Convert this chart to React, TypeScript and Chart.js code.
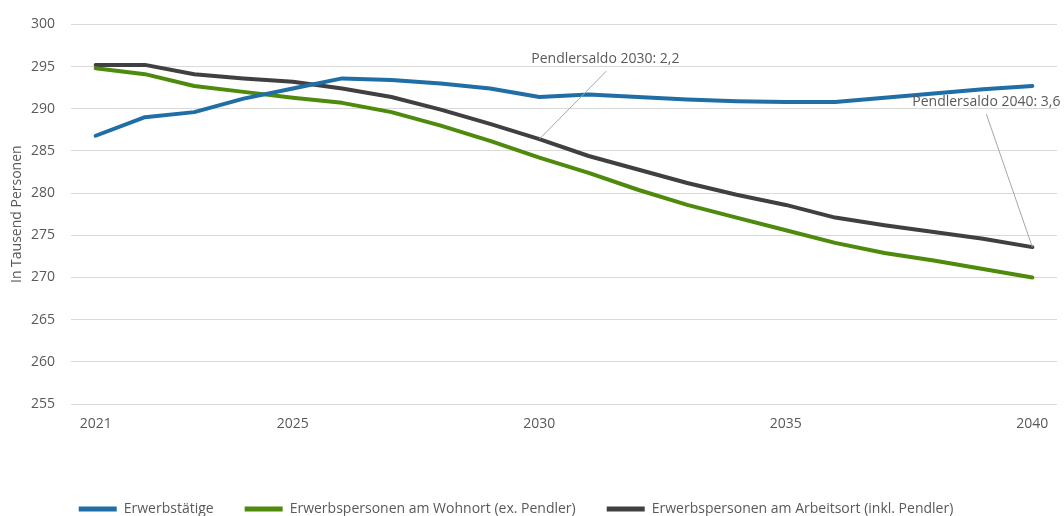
import React, { useEffect, useRef } from 'react';
import { Chart, registerables } from 'chart.js';

Chart.register(...registerables);

const years = ['2021', '2022', '2023', '2024', '2025', '2026', '2027', '2028', '2029', '2030',
  '2031', '2032', '2033', '2034', '2035', '2036', '2037', '2038', '2039', '2040'];

const shownYears = ['2021', '2025', '2030', '2035', '2040'];

const erwerbstaetige = [286.8, 289.0, 289.6, 291.2, 292.4, 293.6, 293.4, 293.0, 292.4, 291.4,
  291.7, 291.4, 291.1, 290.9, 290.8, 290.8, 291.3, 291.8, 292.3, 292.7];

const wohnort = [294.8, 294.1, 292.7, 292.0, 291.3, 290.7, 289.6, 288.0, 286.2, 284.2,
  282.4, 280.4, 278.6, 277.1, 275.6, 274.1, 272.9, 272.0, 271.0, 270.0];

const arbeitsort = [295.2, 295.2, 294.1, 293.6, 293.2, 292.4, 291.4, 289.9, 288.2, 286.4,
  284.4, 282.8, 281.2, 279.8, 278.6, 277.1, 276.2, 275.4, 274.6, 273.6];

const seriesNames = [
  'Erwerbstätige',
  'Erwerbspersonen am Wohnort (ex. Pendler)',
  'Erwerbspersonen am Arbeitsort (inkl. Pendler)',
];

const noteYears = ['2030', '2040'];

const yTitle = 'In Tausend Personen';

const FONT = "'Open Sans', 'Noto Sans', 'DejaVu Sans', sans-serif";
const GRAY = '#595959';
const COLORS = ['#1f6ea6', '#4e8a0c', '#404040'];

// pixel offsets of label/leader relative to the annotated point
const noteOffsets = [
  { lineDx: 67, lineDy: -68, textDx: 66, textDy: -80 },
  { lineDx: -46, lineDy: -133, textDx: -46, textDy: -145 },
];

export default function App() {
  const ref = useRef<HTMLCanvasElement>(null);

  useEffect(() => {
    if (!ref.current) return;

    const notePlugin = {
      id: 'pendlerNotes',
      afterDatasetsDraw(chart: any) {
        const ctx = chart.ctx;
        const meta = chart.getDatasetMeta(2);
        noteYears.forEach((yr, k) => {
          const idx = years.indexOf(yr);
          const pt = meta.data[idx];
          if (!pt) return;
          const off = noteOffsets[k];
          const saldo = (arbeitsort[idx] - wohnort[idx]).toFixed(1).replace('.', ',');
          ctx.save();
          ctx.strokeStyle = '#a6a6a6';
          ctx.lineWidth = 1;
          ctx.beginPath();
          ctx.moveTo(pt.x, pt.y);
          ctx.lineTo(pt.x + off.lineDx, pt.y + off.lineDy);
          ctx.stroke();
          ctx.fillStyle = GRAY;
          ctx.font = `14px ${FONT}`;
          ctx.textAlign = 'center';
          ctx.textBaseline = 'middle';
          ctx.fillText(`Pendlersaldo ${yr}: ${saldo}`, pt.x + off.textDx, pt.y + off.textDy);
          ctx.restore();
        });
      },
    };

    const data = [erwerbstaetige, wohnort, arbeitsort];

    const chart = new Chart(ref.current, {
      type: 'line',
      data: {
        labels: years,
        datasets: data.map((d, i) => ({
          label: seriesNames[i],
          data: d,
          borderColor: COLORS[i],
          backgroundColor: COLORS[i],
          borderWidth: 4,
          pointRadius: 0,
          pointHoverRadius: 0,
          tension: 0,
          borderCapStyle: 'round' as const,
          borderJoinStyle: 'round' as const,
        })),
      },
      options: {
        responsive: false,
        animation: false,
        devicePixelRatio: 1,
        layout: { padding: { left: -25, right: 7, top: 16, bottom: -10 } },
        scales: {
          x: {
            offset: true,
            grid: { display: false, drawTicks: false },
            border: { display: false },
            ticks: {
              autoSkip: false,
              maxRotation: 0,
              padding: 12,
              color: GRAY,
              font: { family: FONT, size: 14 },
              callback: (_v: any, i: number) => (shownYears.includes(years[i]) ? years[i] : ''),
            },
            afterFit: (s: any) => { s.height = 67; },
          },
          y: {
            min: 255,
            max: 300,
            ticks: {
              stepSize: 5,
              padding: 16,
              color: GRAY,
              font: { family: FONT, size: 14 },
            },
            grid: { color: '#d9d9d9', lineWidth: 1, drawTicks: false },
            border: { display: false },
            title: {
              display: true,
              text: yTitle,
              color: GRAY,
              font: { family: FONT, size: 14 },
              padding: { top: 34, bottom: 0 },
            },
            afterFit: (s: any) => { s.width = 96; },
          },
        },
        plugins: {
          tooltip: { enabled: false },
          legend: {
            position: 'bottom',
            labels: {
              boxWidth: 38,
              boxHeight: 5,
              padding: 31,
              color: GRAY,
              font: { family: FONT, size: 14 },
              generateLabels: (c: any) =>
                (Chart.defaults.plugins.legend.labels.generateLabels as any)(c).map((l: any) => ({
                  ...l,
                  lineWidth: 0,
                  fillStyle: l.strokeStyle,
                })),
            },
          },
        },
      },
      plugins: [notePlugin],
    });

    return () => chart.destroy();
  }, []);

  return (
    <div style={{ position: 'fixed', left: 0, top: 0, width: 1064, height: 516, background: '#fff' }}>
      <canvas ref={ref} width={1064} height={516} style={{ display: 'block', width: 1064, height: 516 }} />
    </div>
  );
}
